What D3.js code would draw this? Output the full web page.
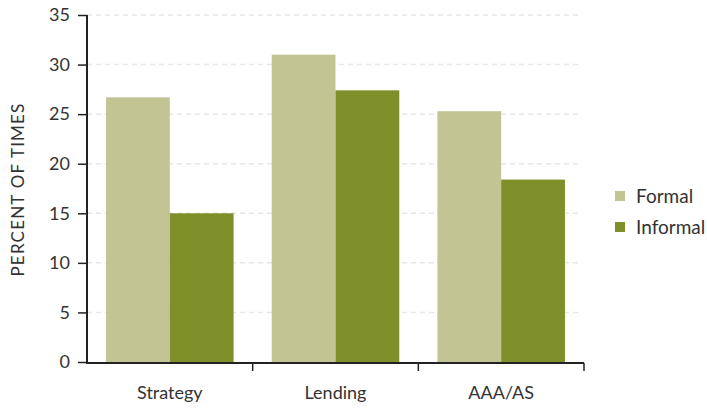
<!DOCTYPE html>
<html>
<head>
<meta charset="utf-8">
<script src="https://cdn.jsdelivr.net/npm/d3@7"></script>
<style>
  html, body { margin: 0; padding: 0; background: #fff; }
  svg { display: block; font-family: Lato, "Open Sans", sans-serif; }
</style>
</head>
<body>
<svg id="chart" width="707" height="409"></svg>
<script>
const categories = ["Strategy", "Lending", "AAA/AS"];
const seriesNames = ["Formal", "Informal"];
const formalValues = [26.7, 31.0, 25.3];
const informalValues = [15.0, 27.4, 18.4];
const yTicks = [0, 5, 10, 15, 20, 25, 30, 35];
const colors = ["#c2c593", "#7f8f29"];

const seriesValues = [formalValues, informalValues];
const data = categories.map((c, i) => ({
  category: c,
  values: seriesNames.map((s, j) => ({ series: s, value: seriesValues[j][i] }))
}));

const svg = d3.select("#chart");
const mLeft = 87, mRight = 584, mTop = 15, mBottom = 362;

const x0 = d3.scaleBand().domain(categories).range([mLeft, mRight])
  .paddingInner(0.23).paddingOuter(0.115);
const x1 = d3.scaleBand().domain(seriesNames).range([0, x0.bandwidth()]).padding(0);
const y = d3.scaleLinear().domain([0, 35]).range([mBottom, mTop]);
const color = d3.scaleOrdinal().domain(seriesNames).range(colors);

// gridlines
svg.append("g").selectAll("line").data(yTicks.filter(d => d > 0)).join("line")
  .attr("x1", mLeft).attr("x2", 580)
  .attr("y1", d => y(d)).attr("y2", d => y(d))
  .attr("stroke", "#e6e6e6").attr("stroke-width", 1.5)
  .attr("stroke-dasharray", "5,4");

// bars
svg.append("g").selectAll("g").data(data).join("g")
  .attr("transform", d => `translate(${x0(d.category)},0)`)
  .selectAll("rect").data(d => d.values).join("rect")
  .attr("x", d => x1(d.series))
  .attr("width", x1.bandwidth())
  .attr("y", d => y(d.value))
  .attr("height", d => y(0) - y(d.value))
  .attr("fill", d => color(d.series));

// y axis
const yAxis = svg.append("g").attr("transform", `translate(${mLeft},0)`)
  .call(d3.axisLeft(y).tickValues(yTicks).tickSize(9).tickPadding(8).tickFormat(d3.format("d")));
yAxis.select(".domain").attr("stroke", "#222").attr("stroke-width", 2)
  .attr("d", `M0,${mTop}V${mBottom + 1}`);
yAxis.selectAll(".tick line").attr("stroke", "#222").attr("stroke-width", 1.5);
yAxis.selectAll(".tick text").attr("font-size", 18).attr("fill", "#333")
  .attr("font-family", "Lato, sans-serif");

// x axis
const step = x0.step();
const boundaries = categories.slice(1).map(c => x0(c) - step * x0.paddingInner() / 2)
  .concat([x0(categories[categories.length - 1]) + x0.bandwidth() + step * x0.paddingInner() / 2]);
const xAxis = svg.append("g").attr("transform", `translate(0,${mBottom + 1})`)
  .call(d3.axisBottom(x0).tickSize(0).tickPadding(23));
xAxis.select(".domain").attr("stroke", "#222").attr("stroke-width", 2)
  .attr("d", `M${mLeft - 1},0H${mRight}`);
xAxis.selectAll(".tick text").attr("font-size", 18).attr("fill", "#333")
  .attr("font-family", "Lato, sans-serif");
xAxis.selectAll(".bound").data(boundaries).join("line").attr("class", "bound")
  .attr("x1", d => d).attr("x2", d => d).attr("y1", 0).attr("y2", 8)
  .attr("stroke", "#222").attr("stroke-width", 1.5);

// y axis title
svg.append("text")
  .attr("transform", `translate(24,${(mTop + mBottom) / 2 + 1}) rotate(-90)`)
  .attr("text-anchor", "middle")
  .attr("font-size", 17).attr("letter-spacing", 1.2).attr("fill", "#333")
  .text("PERCENT OF TIMES");

// legend
const legend = svg.append("g").attr("transform", "translate(615,191)");
const li = legend.selectAll("g").data(seriesNames).join("g")
  .attr("transform", (d, i) => `translate(0,${i * 31})`);
li.append("rect").attr("width", 10).attr("height", 10).attr("fill", d => color(d));
li.append("text").attr("x", 21).attr("y", 5).attr("dy", "0.35em")
  .attr("font-size", 19).attr("fill", "#333").text(d => d);
</script>
</body>
</html>
